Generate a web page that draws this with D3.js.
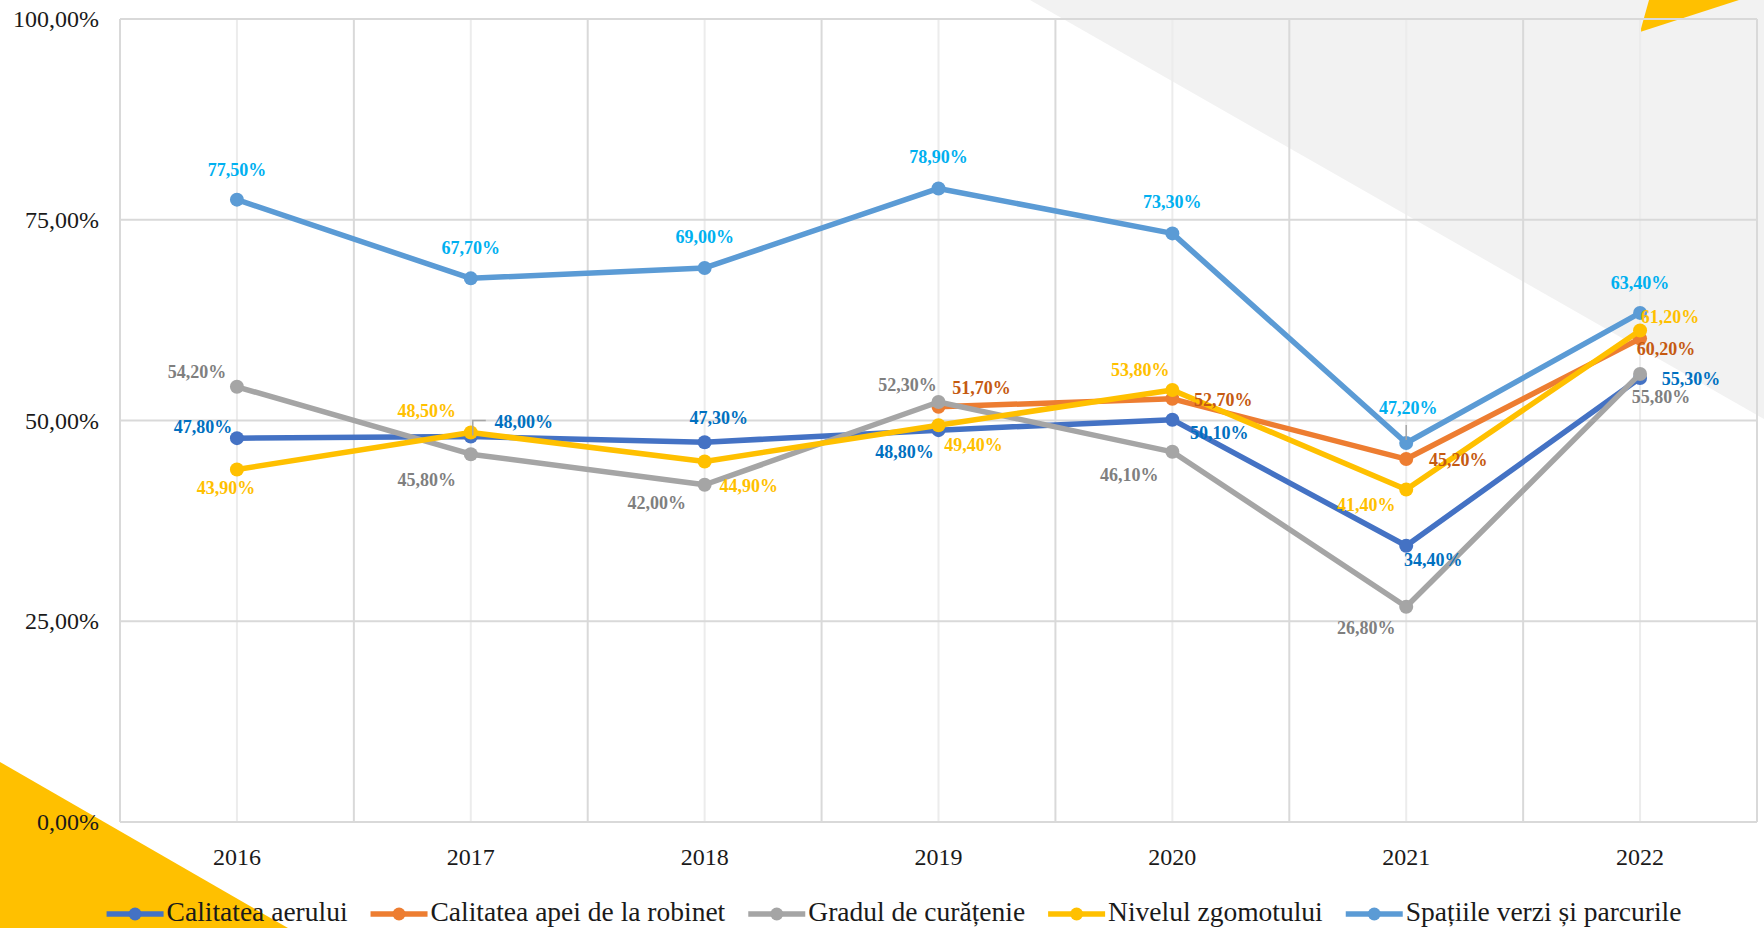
<!DOCTYPE html>
<html>
<head>
<meta charset="utf-8">
<script src="https://cdn.jsdelivr.net/npm/d3@7/dist/d3.min.js"></script>
<style>
  body { margin: 0; background: #fff; }
  svg { display: block; }
  text { font-family: "Liberation Serif", "DejaVu Serif", serif; }
</style>
</head>
<body>
<svg id="chart"></svg>
<script>
// data
var years = ["2016", "2017", "2018", "2019", "2020", "2021", "2022"];
var calitateaAerului = [47.8, 48.0, 47.3, 48.8, 50.1, 34.4, 55.3];
var calitateaApei = [null, null, null, 51.7, 52.7, 45.2, 60.2];
var gradulCuratenie = [54.2, 45.8, 42.0, 52.3, 46.1, 26.8, 55.8];
var nivelulZgomotului = [43.9, 48.5, 44.9, 49.4, 53.8, 41.4, 61.2];
var spatiileVerzi = [77.5, 67.7, 69.0, 78.9, 73.3, 47.2, 63.4];
var seriesNames = ["Calitatea aerului", "Calitatea apei de la robinet", "Gradul de curățenie", "Nivelul zgomotului", "Spațiile verzi și parcurile"];
var yTicks = [0, 25, 50, 75, 100];

function init() {
    var w = 1764, h = 928;
    var left = 120, right = 1757, top = 19, bottom = 822;

    var series = [
        { name: seriesNames[0], values: calitateaAerului, color: "#4472C4", label: "#0070C0" },
        { name: seriesNames[1], values: calitateaApei, color: "#ED7D31", label: "#C55A11" },
        { name: seriesNames[2], values: gradulCuratenie, color: "#A5A5A5", label: "#7F7F7F" },
        { name: seriesNames[3], values: nivelulZgomotului, color: "#FFC000", label: "#FFC000" },
        { name: seriesNames[4], values: spatiileVerzi, color: "#5B9BD5", label: "#00B0F0" }
    ];

    // label centre offsets from each point (dx, dy), like Excel's manual placement
    var labelOffsets = [
        [[-34, -11], [53, -15], [14, -24], [-34, 22], [47, 13], [27, 14], [51, 1]],
        [null, null, null, [43, -19], [51, 1], [52, 1], [26, 10]],
        [[-40, -15], [-44, 26], [-48, 18], [-31, -17], [-43, 23], [-40, 21], [21, 23]],
        [[-11, 19], [-44, -22], [44, 25], [35, 20], [-32, -20], [-40, 15], [30, -14]],
        [[0, -30], [0, -30], [0, -31], [0, -31], [0, -31], [2, -35], [0, -30]]
    ];

    var ro = d3.formatLocale({ decimal: ",", thousands: ".", grouping: [3], currency: ["", " lei"] });
    var fmt = function (v) { return ro.format(".2f")(v) + "%"; };

    var svg = d3.select("#chart").attr("width", w).attr("height", h);

    // decoration behind the chart
    svg.append("polygon").attr("points", "1030,0 1764,0 1764,419").attr("fill", "#f2f2f2");
    svg.append("polygon").attr("points", "1649,0 1739,0 1640,32").attr("fill", "#FFC000");
    svg.append("polygon").attr("points", "0,762 0,928 288,928").attr("fill", "#FFC000");

    var xScale = d3.scaleBand().domain(years).range([left, right]).padding(0);
    var yScale = d3.scaleLinear().domain([0, 100]).range([bottom, top]);
    var cx = function (i) { return xScale(years[i]) + xScale.bandwidth() / 2; };

    // grid
    var grid = svg.append("g");
    grid.selectAll(".minor").data(years).enter().append("line")
        .attr("x1", function (d) { return xScale(d) + xScale.bandwidth() / 2; })
        .attr("x2", function (d) { return xScale(d) + xScale.bandwidth() / 2; })
        .attr("y1", top).attr("y2", bottom)
        .attr("stroke", "#ececec").attr("stroke-width", 2);
    var bounds = years.map(function (d) { return xScale(d); }).concat([right]);
    grid.selectAll(".major").data(bounds).enter().append("line")
        .attr("x1", function (d) { return d; }).attr("x2", function (d) { return d; })
        .attr("y1", top).attr("y2", bottom)
        .attr("stroke", "#d9d9d9").attr("stroke-width", 2);
    grid.selectAll(".hline").data(yTicks).enter().append("line")
        .attr("x1", left).attr("x2", right)
        .attr("y1", function (d) { return yScale(d); })
        .attr("y2", function (d) { return yScale(d); })
        .attr("stroke", "#d9d9d9").attr("stroke-width", 2);

    // axes
    var yAxis = d3.axisLeft(yScale).tickValues(yTicks).tickSize(0).tickPadding(21)
        .tickFormat(function (d) { return fmt(d); });
    svg.append("g").attr("transform", "translate(" + left + ",0)").call(yAxis)
        .call(function (g) {
            g.select(".domain").remove();
            g.selectAll("text").attr("font-size", 24).attr("fill", "#1a1a1a")
                .attr("font-family", "Liberation Serif");
        });

    var xAxis = d3.axisBottom(xScale).tickSize(0).tickPadding(26);
    svg.append("g").attr("transform", "translate(0," + bottom + ")").call(xAxis)
        .call(function (g) {
            g.select(".domain").remove();
            g.selectAll("text").attr("font-size", 24).attr("fill", "#1a1a1a")
                .attr("font-family", "Liberation Serif");
        });

    var line = d3.line()
        .defined(function (d) { return d != null; })
        .x(function (d, i) { return cx(i); })
        .y(function (d) { return yScale(d); });

    series.forEach(function (s) {
        var g = svg.append("g");
        g.append("path").datum(s.values)
            .attr("d", line).attr("fill", "none")
            .attr("stroke", s.color).attr("stroke-width", 5.5)
            .attr("stroke-linejoin", "round").attr("stroke-linecap", "round");
        g.selectAll("circle").data(s.values.map(function (v, i) { return { v: v, i: i }; })
                .filter(function (d) { return d.v != null; }))
            .enter().append("circle")
            .attr("cx", function (d) { return cx(d.i); })
            .attr("cy", function (d) { return yScale(d.v); })
            .attr("r", 7).attr("fill", s.color);
    });

    // leader lines
    var leader = svg.append("g").attr("fill", "none").attr("stroke", "#a6a6a6").attr("stroke-width", 1.5);
    leader.append("path").attr("d", "M" + (cx(1) + 2) + "," + (yScale(calitateaAerului[1]) - 1) +
        "V" + (yScale(calitateaAerului[1]) - 16) + "H" + (cx(1) + 15));
    leader.append("path").attr("d", "M" + cx(5) + "," + (yScale(spatiileVerzi[5]) - 3) +
        "V" + (yScale(spatiileVerzi[5]) - 18));

    // data labels
    series.forEach(function (s, si) {
        svg.append("g").selectAll("text")
            .data(s.values.map(function (v, i) { return { v: v, i: i }; })
                .filter(function (d) { return d.v != null; }))
            .enter().append("text")
            .attr("x", function (d) { return cx(d.i) + labelOffsets[si][d.i][0]; })
            .attr("y", function (d) { return yScale(d.v) + labelOffsets[si][d.i][1] + 6; })
            .attr("text-anchor", "middle")
            .attr("font-size", 18).attr("font-weight", "bold")
            .attr("fill", s.label)
            .text(function (d) { return fmt(d.v); });
    });

    // legend
    var legend = svg.append("g");
    var lx = 0;
    var items = [];
    series.forEach(function (s) {
        var it = legend.append("g");
        it.append("line").attr("x1", 0).attr("x2", 57).attr("y1", 0).attr("y2", 0)
            .attr("stroke", s.color).attr("stroke-width", 5.5);
        it.append("circle").attr("cx", 28.5).attr("cy", 0).attr("r", 6.5).attr("fill", s.color);
        var t = it.append("text").attr("x", 60).attr("y", 7)
            .attr("font-size", 27.5).attr("fill", "#1a1a1a").text(s.name);
        it.attr("transform", "translate(" + lx + ",0)");
        lx += 60 + t.node().getComputedTextLength() + 23;
    });
    var total = lx - 23;
    legend.attr("transform", "translate(" + (894 - total / 2) + ",914)");
}

window.onload = init;
</script>
</body>
</html>
